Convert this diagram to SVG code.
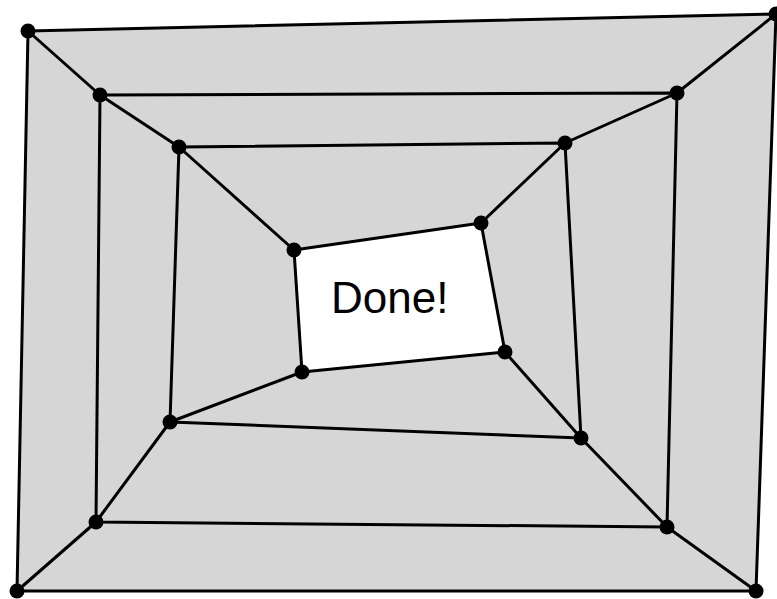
<svg xmlns="http://www.w3.org/2000/svg" width="777" height="599" viewBox="0 0 777 599">
<style>
.e{stroke:#000;stroke-width:3;fill:none;stroke-linecap:round;stroke-linejoin:round}
.n{fill:#000}
.t{font-family:"Liberation Sans",Arial,sans-serif;font-size:44px;fill:#000}
</style>
<rect width="777" height="599" fill="#fff"/>
<polygon points="28,31 776,14 756,591 17,591" fill="#d6d6d6"/>
<polygon points="294,250 481,223 505,352 302,372" fill="#fff"/>
<g id="connectors" class="e">
<polygon points="28,31 776,14 756,591 17,591"/>
<polygon points="100,95 677,93 667,527 96,522"/>
<polygon points="179,147 565,143 581,438 170,422"/>
<polygon points="294,250 481,223 505,352 302,372"/>
<polyline points="28,31 100,95 179,147 294,250"/>
<polyline points="776,14 677,93 565,143 481,223"/>
<polyline points="17,591 96,522 170,422 302,372"/>
<polyline points="756,591 667,527 581,438 505,352"/>
</g>
<g id="n1"><circle class="n" cx="28" cy="31" r="7.5"/></g>
<g id="n2"><circle class="n" cx="776" cy="14" r="7.5"/></g>
<g id="n3"><circle class="n" cx="756" cy="591" r="7.5"/></g>
<g id="n4"><circle class="n" cx="17" cy="591" r="7.5"/></g>
<g id="n5"><circle class="n" cx="100" cy="95" r="7.5"/></g>
<g id="n6"><circle class="n" cx="677" cy="93" r="7.5"/></g>
<g id="n7"><circle class="n" cx="667" cy="527" r="7.5"/></g>
<g id="n8"><circle class="n" cx="96" cy="522" r="7.5"/></g>
<g id="n9"><circle class="n" cx="179" cy="147" r="7.5"/></g>
<g id="n10"><circle class="n" cx="565" cy="143" r="7.5"/></g>
<g id="n11"><circle class="n" cx="581" cy="438" r="7.5"/></g>
<g id="n12"><circle class="n" cx="170" cy="422" r="7.5"/></g>
<g id="n13"><circle class="n" cx="294" cy="250" r="7.5"/></g>
<g id="n14"><circle class="n" cx="481" cy="223" r="7.5"/></g>
<g id="n15"><circle class="n" cx="505" cy="352" r="7.5"/></g>
<g id="n16"><circle class="n" cx="302" cy="372" r="7.5"/></g>
<g id="label"><text class="t" x="331" y="313">Done!</text></g>
</svg>
